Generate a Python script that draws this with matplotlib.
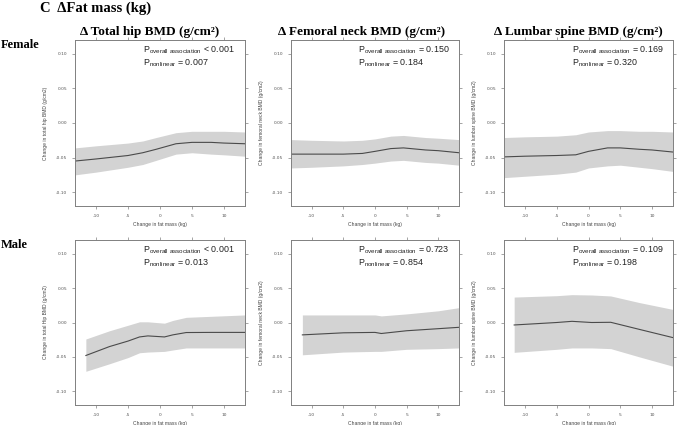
import matplotlib
matplotlib.use("Agg")
import matplotlib.pyplot as plt
import numpy as np

# ---- data ----
col_titles = ["\u0394 Total hip BMD (g/cm\u00b2)",
              "\u0394 Femoral neck BMD (g/cm\u00b2)",
              "\u0394 Lumbar spine BMD (g/cm\u00b2)"]
row_labels = ["Female", "Male"]
x_label = "Change in fat mass (kg)"
y_labels = [["Change in total hip BMD (g/cm2)", "Change in femoral neck BMD (g/cm2)",
             "Change in lumbar spine BMD (g/cm2)"],
            ["Change in total Hip BMD (g/cm2)", "Change in femoral neck BMD (g/cm2)",
             "Change in lumbar spine BMD (g/cm2)"]]
p_overall = [["< 0.001", "= 0.150", "= 0.169"], ["< 0.001", "= 0.723", "= 0.109"]]
p_nonlin = [["= 0.007", "= 0.184", "= 0.320"], ["= 0.013", "= 0.854", "= 0.198"]]

# female total hip
f_th_x = [-13.3, -10, -5, -2.7, -0.6, 2.5, 5, 8, 10, 13.3]
f_th_y = [-0.055, -0.052, -0.047, -0.043, -0.038, -0.030, -0.028, -0.028, -0.029, -0.030]
f_th_lo = [-0.075, -0.071, -0.064, -0.060, -0.054, -0.045, -0.043, -0.045, -0.046, -0.048]
f_th_hi = [-0.036, -0.033, -0.029, -0.026, -0.021, -0.014, -0.012, -0.012, -0.012, -0.013]
# female femoral neck
f_fn_x = [-13.3, -10, -5, -2, 0, 2.5, 4.5, 8, 10, 13.3]
f_fn_y = [-0.045, -0.045, -0.045, -0.044, -0.041, -0.037, -0.036, -0.039, -0.040, -0.043]
f_fn_lo = [-0.065, -0.064, -0.062, -0.060, -0.058, -0.055, -0.054, -0.057, -0.058, -0.061]
f_fn_hi = [-0.024, -0.025, -0.026, -0.025, -0.023, -0.019, -0.018, -0.021, -0.022, -0.024]
# female lumbar spine
f_ls_x = [-13.3, -10, -5, -2, 0, 3, 5, 8, 10, 13.3]
f_ls_y = [-0.049, -0.048, -0.047, -0.046, -0.041, -0.036, -0.036, -0.038, -0.039, -0.042]
f_ls_lo = [-0.079, -0.077, -0.074, -0.071, -0.065, -0.062, -0.061, -0.064, -0.066, -0.070]
f_ls_hi = [-0.021, -0.020, -0.019, -0.017, -0.013, -0.011, -0.011, -0.012, -0.012, -0.013]
# male total hip
m_th_x = [-11.6, -7.9, -5, -3.2, -1.9, 0.7, 2, 4.1, 8, 13.3]
m_th_y = [-0.048, -0.035, -0.027, -0.021, -0.0195, -0.021, -0.018, -0.0146, -0.0144, -0.0144]
m_th_lo = [-0.071, -0.060, -0.051, -0.044, -0.043, -0.042, -0.040, -0.037, -0.037, -0.037]
m_th_hi = [-0.024, -0.012, -0.004, 0.001, 0.001, -0.001, 0.003, 0.0075, 0.009, 0.011]
# male femoral neck
m_fn_x = [-11.5, -5, 0, 1, 5, 10, 13.3]
m_fn_y = [-0.018, -0.015, -0.0144, -0.016, -0.012, -0.009, -0.007]
m_fn_lo = [-0.047, -0.043, -0.042, -0.042, -0.039, -0.038, -0.037]
m_fn_hi = [0.011, 0.011, 0.011, 0.0096, 0.0125, 0.017, 0.0216]
# male lumbar spine
m_ls_x = [-11.7, -5, -2.6, 0.5, 3.5, 8, 13.3]
m_ls_y = [-0.0036, 0.000, 0.0017, 0.0, 0.0003, -0.010, -0.022]
m_ls_lo = [-0.0434, -0.039, -0.037, -0.037, -0.038, -0.050, -0.0636]
m_ls_hi = [0.037, 0.039, 0.0405, 0.040, 0.0386, 0.029, 0.019]

curves = [[(f_th_x, f_th_y, f_th_lo, f_th_hi), (f_fn_x, f_fn_y, f_fn_lo, f_fn_hi),
           (f_ls_x, f_ls_y, f_ls_lo, f_ls_hi)],
          [(m_th_x, m_th_y, m_th_lo, m_th_hi), (m_fn_x, m_fn_y, m_fn_lo, m_fn_hi),
           (m_ls_x, m_ls_y, m_ls_lo, m_ls_hi)]]

x_ticks = [-10, -5, 0, 5, 10]
y_ticks = [-0.10, -0.05, 0.00, 0.05, 0.10]

W, H = 677, 425
fig = plt.figure(figsize=(W / 100, H / 100), dpi=100)

# panel boxes in pixels: left, right / top, bottom
cols_px = [(75, 245), (291, 459), (504, 673)]
rows_px = [(40, 206), (240, 405)]

serif = "Liberation Serif"
sans = "Liberation Sans"
spine_col = "#808080"

for r in range(2):
    for c in range(3):
        l, rr = cols_px[c]
        t, b = rows_px[r]
        ax = fig.add_axes([l / W, 1 - b / H, (rr - l) / W, (b - t) / H])
        x, y, lo, hi = curves[r][c]
        ax.fill_between(x, lo, hi, color="#d3d3d3", lw=0)
        ax.plot(x, y, color="#4a4a4a", lw=0.8)
        ax.set_xlim(-13.3, 13.3)
        ax.set_ylim(-0.12, 0.12)
        ax.set_xticks(x_ticks)
        ax.set_yticks(y_ticks)
        ax.set_xticklabels([str(v) for v in x_ticks])
        ax.set_yticklabels(["%.2f" % v for v in y_ticks])
        ax.tick_params(direction="out", length=2.5, width=0.5, colors=spine_col,
                       labelsize=3.2, labelcolor="#555555", pad=3,
                       top=True, right=True)
        for s in ax.spines.values():
            s.set_color(spine_col)
            s.set_linewidth(0.7)
        ax.set_xlabel(x_label, fontsize=3.6, color="#444444", family=sans, labelpad=3)
        ax.set_ylabel(y_labels[r][c], fontsize=3.6, color="#444444", family=sans, labelpad=6)
        ax.text(0.40, 0.94, r"P$_\mathregular{overall\ association}$ " + p_overall[r][c],
                transform=ax.transAxes, fontsize=6.4, family=sans, color="#222222",
                va="center", ha="left")
        ax.text(0.40, 0.862, r"P$_\mathregular{nonlinear}$ " + p_nonlin[r][c],
                transform=ax.transAxes, fontsize=6.4, family=sans, color="#222222",
                va="center", ha="left")

# column titles
title_cx = [150, 362, 578]
for c in range(3):
    fig.text(title_cx[c] / W, 1 - 32 / H, col_titles[c], ha="center", va="center",
             fontsize=9.5, fontweight="bold", family=serif)

# row labels
fig.text(1 / W, 1 - 45 / H, row_labels[0], ha="left", va="center",
         fontsize=9, fontweight="bold", family=serif)
fig.text(1 / W, 1 - 245 / H, row_labels[1], ha="left", va="center",
         fontsize=9, fontweight="bold", family=serif)

fig.text(40 / W, 1 - 8 / H, "C  \u0394Fat mass (kg)", ha="left", va="center",
         fontsize=10.5, fontweight="bold", family=serif)

fig.savefig("out.png", dpi=100)
